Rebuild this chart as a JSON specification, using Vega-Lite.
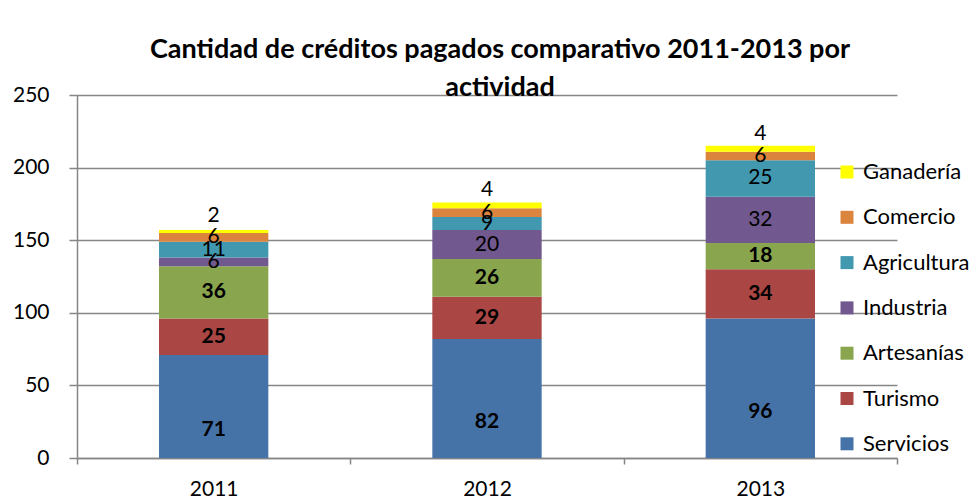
{
  "$schema": "https://vega.github.io/schema/vega-lite/v6.json",
  "width": 820,
  "height": 363,
  "autosize": {"type": "none"},
  "padding": {"left": 77, "top": 95, "right": 80, "bottom": 44},
  "background": "white",
  "title": {
    "text": ["Cantidad de créditos pagados comparativo 2011-2013 por", "actividad"],
    "font": "Lato",
    "fontSize": 27,
    "fontWeight": "bold",
    "color": "black",
    "anchor": "middle",
    "dx": 13,
    "offset": -18,
    "lineHeight": 38
  },
  "data": {
    "values": [
      {"anio": "2011", "actividad": "Servicios", "orden": 1, "valor": 71},
      {"anio": "2011", "actividad": "Turismo", "orden": 2, "valor": 25},
      {"anio": "2011", "actividad": "Artesanías", "orden": 3, "valor": 36},
      {"anio": "2011", "actividad": "Industria", "orden": 4, "valor": 6},
      {"anio": "2011", "actividad": "Agricultura", "orden": 5, "valor": 11},
      {"anio": "2011", "actividad": "Comercio", "orden": 6, "valor": 6},
      {"anio": "2011", "actividad": "Ganadería", "orden": 7, "valor": 2},
      {"anio": "2012", "actividad": "Servicios", "orden": 1, "valor": 82},
      {"anio": "2012", "actividad": "Turismo", "orden": 2, "valor": 29},
      {"anio": "2012", "actividad": "Artesanías", "orden": 3, "valor": 26},
      {"anio": "2012", "actividad": "Industria", "orden": 4, "valor": 20},
      {"anio": "2012", "actividad": "Agricultura", "orden": 5, "valor": 9},
      {"anio": "2012", "actividad": "Comercio", "orden": 6, "valor": 6},
      {"anio": "2012", "actividad": "Ganadería", "orden": 7, "valor": 4},
      {"anio": "2013", "actividad": "Servicios", "orden": 1, "valor": 96},
      {"anio": "2013", "actividad": "Turismo", "orden": 2, "valor": 34},
      {"anio": "2013", "actividad": "Artesanías", "orden": 3, "valor": 18},
      {"anio": "2013", "actividad": "Industria", "orden": 4, "valor": 32},
      {"anio": "2013", "actividad": "Agricultura", "orden": 5, "valor": 25},
      {"anio": "2013", "actividad": "Comercio", "orden": 6, "valor": 6},
      {"anio": "2013", "actividad": "Ganadería", "orden": 7, "valor": 4}
    ]
  },
  "encoding": {
    "x": {
      "field": "anio",
      "type": "nominal",
      "scale": {"paddingInner": 0, "paddingOuter": 0},
      "axis": {
        "title": null,
        "labelAngle": 0,
        "labelFont": "Lato",
        "labelFontSize": 21,
        "labelColor": "black",
        "labelPadding": 14,
        "tickBand": "extent",
        "tickColor": "#868686",
        "tickSize": 6,
        "domainColor": "#868686",
        "domainWidth": 1.5,
        "tickWidth": 1.5
      }
    },
    "y": {
      "field": "valor",
      "type": "quantitative",
      "stack": "zero",
      "scale": {"domain": [0, 250], "nice": false},
      "axis": {
        "title": null,
        "values": [0, 50, 100, 150, 200, 250],
        "labelFont": "Lato",
        "labelFontSize": 21,
        "labelColor": "black",
        "labelPadding": 20,
        "tickSize": 8,
        "tickColor": "#868686",
        "tickWidth": 1.5,
        "domainColor": "#868686",
        "domainWidth": 1.5,
        "grid": true,
        "gridColor": "#868686",
        "gridWidth": 1.5
      }
    },
    "order": {"field": "orden", "type": "quantitative"}
  },
  "layer": [
    {
      "mark": {"type": "bar", "width": {"band": 0.4}},
      "encoding": {
        "color": {
          "field": "actividad",
          "type": "nominal",
          "scale": {
            "domain": ["Ganadería", "Comercio", "Agricultura", "Industria", "Artesanías", "Turismo", "Servicios"],
            "range": ["#FFFF00", "#DB843D", "#4198AF", "#71588F", "#89A54E", "#AA4643", "#4572A7"]
          },
          "legend": {
            "title": null,
            "orient": "none",
            "legendX": 759,
            "legendY": 66,
            "padding": 0,
            "symbolType": "square",
            "symbolSize": 169,
            "symbolStrokeWidth": 0,
            "labelFont": "Lato",
            "labelFontSize": 22,
            "labelColor": "black",
            "labelOffset": 5,
            "rowPadding": 23.3
          }
        }
      }
    },
    {
      "mark": {"type": "text", "font": "Lato", "fontSize": 21, "fontWeight": "bold", "color": "black", "dy": 24},
      "encoding": {
        "y": {"field": "valor", "type": "quantitative", "stack": "zero", "bandPosition": 0.5},
        "text": {
          "condition": {"test": "datum.actividad == 'Servicios'", "field": "valor", "type": "quantitative"},
          "value": ""
        }
      }
    },
    {
      "mark": {"type": "text", "font": "Lato", "fontSize": 21, "fontWeight": "bold", "color": "black"},
      "encoding": {
        "y": {"field": "valor", "type": "quantitative", "stack": "zero", "bandPosition": 0.5},
        "text": {
          "condition": {"test": "indexof(['Turismo','Artesanías'], datum.actividad) >= 0", "field": "valor", "type": "quantitative"},
          "value": ""
        }
      }
    },
    {
      "mark": {"type": "text", "font": "Lato", "fontSize": 21, "fontWeight": "normal", "color": "black"},
      "encoding": {
        "y": {"field": "valor", "type": "quantitative", "stack": "zero", "bandPosition": 0.5},
        "text": {
          "condition": {"test": "indexof(['Industria','Agricultura','Comercio'], datum.actividad) >= 0", "field": "valor", "type": "quantitative"},
          "value": ""
        }
      }
    },
    {
      "mark": {"type": "text", "font": "Lato", "fontSize": 21, "fontWeight": "normal", "color": "black", "dy": -15},
      "encoding": {
        "y": {"field": "valor", "type": "quantitative", "stack": "zero", "bandPosition": 0.5},
        "text": {
          "condition": {"test": "datum.actividad == 'Ganadería'", "field": "valor", "type": "quantitative"},
          "value": ""
        }
      }
    }
  ],
  "config": {
    "view": {"stroke": null}
  }
}
